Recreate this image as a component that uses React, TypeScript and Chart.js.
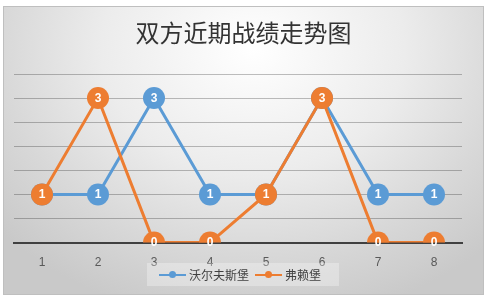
import React, { useEffect, useRef } from "react";
import { Chart, registerables } from "chart.js";

Chart.register(...registerables);

const TITLE = "双方近期战绩走势图";
const categories = ["1", "2", "3", "4", "5", "6", "7", "8"];
const wolfsburgName = "沃尔夫斯堡";
const wolfsburg = [1, 1, 3, 1, 1, 3, 1, 1];
const freiburgName = "弗赖堡";
const freiburg = [1, 3, 0, 0, 1, 3, 0, 0];
const BLUE = "#5b9bd5";
const ORANGE = "#ed7d31";

const titlePlugin = {
  id: "customTitle",
  afterDraw(chart: any) {
    const ctx = chart.ctx;
    ctx.save();
    ctx.font = '24px "Noto Sans CJK SC", serif';
    ctx.fillStyle = "#333333";
    ctx.textAlign = "center";
    ctx.textBaseline = "middle";
    ctx.fillText(TITLE, chart.width / 2, 27);
    ctx.restore();
  },
};

const labelPlugin = {
  id: "pointLabels",
  afterDatasetDraw(chart: any, args: any) {
    const meta = args.meta;
    const ds = chart.data.datasets[args.index];
    const ctx = chart.ctx;
    ctx.save();
    ctx.font = 'bold 12px "Liberation Sans", Arial, sans-serif';
    ctx.fillStyle = "#ffffff";
    ctx.textAlign = "center";
    ctx.textBaseline = "middle";
    meta.data.forEach((pt: any, i: number) => {
      ctx.fillText(String(ds.data[i]), pt.x, pt.y + 0.5);
    });
    ctx.restore();
  },
};

export default function App() {
  const ref = useRef<HTMLCanvasElement>(null);
  useEffect(() => {
    document.body.style.margin = "0";
    const chart = new Chart(ref.current!, {
      type: "line",
      data: {
        labels: categories,
        datasets: [
          {
            label: wolfsburgName,
            data: wolfsburg,
            borderColor: BLUE,
            backgroundColor: BLUE,
            pointBackgroundColor: BLUE,
            pointBorderColor: BLUE,
            borderWidth: 3,
            pointRadius: 11,
            pointBorderWidth: 0,
            order: 2,
          },
          {
            label: freiburgName,
            data: freiburg,
            borderColor: ORANGE,
            backgroundColor: ORANGE,
            pointBackgroundColor: ORANGE,
            pointBorderColor: ORANGE,
            borderWidth: 3,
            pointRadius: 11,
            pointBorderWidth: 0,
            order: 1,
          },
        ],
      },
      options: {
        responsive: false,
        animation: false,
        layout: { padding: { top: 68, left: 9, right: 22, bottom: 12 } },
        plugins: {
          legend: { display: false },
          title: { display: false },
          tooltip: { enabled: false },
        },
        scales: {
          x: {
            offset: true,
            grid: { display: false, drawTicks: false },
            border: { display: true, color: "#404040", width: 2 },
            ticks: {
              padding: 13,
              color: "#595959",
              font: { size: 12, family: '"Liberation Sans", Arial, sans-serif' },
            },
          },
          y: {
            min: 0,
            max: 3.5,
            grid: { color: "rgba(0,0,0,0.25)", drawTicks: false, lineWidth: 1 },
            border: { display: false },
            ticks: { display: false, stepSize: 0.5 },
          },
        },
      },
      plugins: [titlePlugin, labelPlugin],
    });
    return () => chart.destroy();
  }, []);

  const item = (color: string, text: string) => (
    <div style={{ display: "flex", alignItems: "center", marginRight: 6 }}>
      <div style={{ position: "relative", width: 27, height: 10, marginRight: 3 }}>
        <div style={{ position: "absolute", left: 0, right: 0, top: 4, height: 2, background: color }} />
        <div style={{ position: "absolute", left: 10, top: 1.5, width: 7, height: 7, borderRadius: "50%", background: color }} />
      </div>
      <span style={{ fontSize: 12, color: "#404040", fontFamily: '"Noto Sans CJK SC", sans-serif', lineHeight: "23px" }}>{text}</span>
    </div>
  );

  return (
    <div
      style={{
        position: "absolute",
        left: 3,
        top: 6,
        width: 481,
        height: 289,
        background: "radial-gradient(ellipse 70% 95% at 52% 15%, #ffffff 0%, #ececec 45%, #d8d8d8 75%, #c9c9c9 100%)",
        boxShadow: "inset 0 0 0 1px #bfbfbf",
      }}
    >
      <canvas ref={ref} width={481} height={289} style={{ position: "absolute", left: 0, top: 0 }} />
      <div
        style={{
          position: "absolute",
          left: 144,
          top: 257,
          width: 192,
          height: 23,
          background: "rgba(255,255,255,0.3)",
          display: "flex",
          alignItems: "center",
          justifyContent: "center",
        }}
      >
        {item(BLUE, wolfsburgName)}
        {item(ORANGE, freiburgName)}
      </div>
    </div>
  );
}
